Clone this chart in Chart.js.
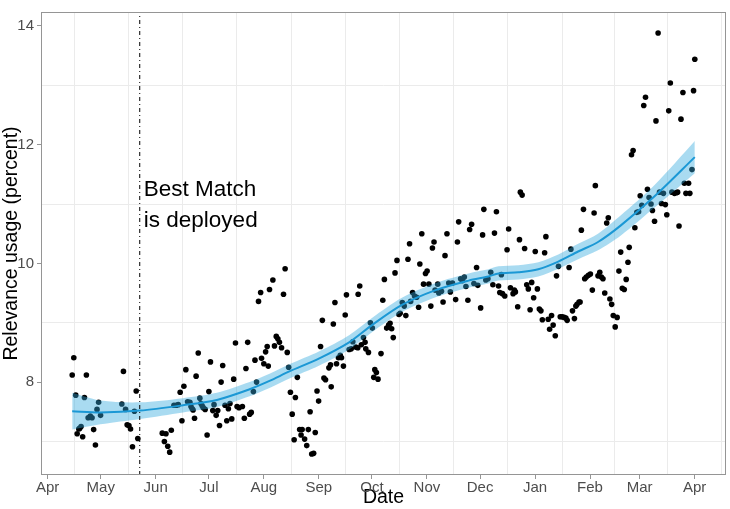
<!DOCTYPE html>
<html lang="en">
<head>
    <meta charset="UTF-8">
    <title>Relevance usage over time</title>
    <script src="https://cdn.jsdelivr.net/npm/chart.js@4.4.1/dist/chart.umd.min.js"></script>
    <style>
        html, body { margin: 0; padding: 0; background: #fff; }
        #wrap { width: 730px; height: 509px; position: relative; }
    </style>
</head>
<body>
    <div id="wrap"><canvas id="usageChart"></canvas></div>

    <script>
        // Days counted from 1 April; months on the x axis
        const monthDays = [0, 30, 61, 91, 122, 153, 183, 214, 244, 275, 306, 334, 365];
        const monthLabels = ['Apr', 'May', 'Jun', 'Jul', 'Aug', 'Sep', 'Oct', 'Nov', 'Dec', 'Jan', 'Feb', 'Mar', 'Apr'];
        const midMonthDays = [15, 45.5, 76, 106.5, 137.5, 168, 198.5, 229, 259.5, 290.5, 320, 349.5, 380];
        const yLabelValues = [8, 10, 12, 14];
        const yGridValues = [7, 9, 11, 13];

        // Daily relevance usage (percent), [day, value]
        const dailyUsage = [
            [13.9, 8.12], [14.8, 8.41], [15.9, 7.78], [16.7, 7.13], [17.6, 7.21], [18.1, 7.22], [18.9, 7.25],
            [19.8, 7.08], [20.8, 7.74], [21.9, 8.12], [22.9, 7.40], [24.1, 7.43], [25.1, 7.40], [26.0, 7.20],
            [27.0, 6.94], [27.9, 7.54], [28.8, 7.66], [29.9, 7.44], [41.9, 7.63], [42.8, 8.18], [44.0, 7.54],
            [44.9, 7.28], [45.9, 7.27], [46.8, 7.21], [47.9, 6.91], [49.0, 7.51], [50.0, 7.85], [50.9, 7.05],
            [64.7, 7.14], [65.9, 7.00], [66.8, 7.13], [67.8, 6.92], [68.9, 6.82], [69.8, 7.19], [71.3, 7.61],
            [72.6, 7.61], [73.7, 7.62], [74.8, 7.83], [75.8, 7.35], [76.9, 7.93], [78.0, 8.21], [79.0, 7.67],
            [80.3, 7.66], [80.9, 7.59], [81.6, 7.55], [82.1, 7.53], [82.9, 7.39], [83.8, 8.10], [85.0, 8.49],
            [85.9, 7.73], [86.5, 7.64], [87.2, 7.60], [87.8, 7.57], [88.9, 7.54], [90.0, 7.11], [91.0, 7.84],
            [91.9, 8.34], [93.2, 7.52], [93.9, 7.62], [95.1, 7.44], [96.0, 7.52], [97.0, 7.27], [97.9, 8.00],
            [98.8, 8.28], [100.1, 7.61], [101.1, 7.35], [102.0, 7.55], [102.9, 7.64], [103.9, 7.38], [105.0, 8.05],
            [106.0, 8.66], [106.9, 7.59], [108.0, 7.57], [109.9, 7.59], [111.0, 7.39], [111.9, 8.23], [112.9, 8.67],
            [114.0, 7.46], [114.9, 7.49], [116.1, 7.84], [117.0, 8.37], [117.9, 8.00], [119.0, 9.36], [120.2, 9.51],
            [120.7, 8.40], [122.0, 8.31], [123.0, 8.51], [123.9, 8.60], [124.5, 8.27], [125.2, 9.56], [127.1, 9.72],
            [128.0, 8.61], [129.0, 8.77], [129.9, 8.73], [130.8, 8.67], [132.0, 8.58], [133.1, 9.48], [134.0, 9.91],
            [135.2, 8.50], [136.0, 8.25], [137.0, 7.83], [138.0, 7.46], [139.1, 7.03], [139.8, 7.74], [140.9, 8.08],
            [142.2, 7.20], [143.0, 7.11], [143.6, 7.20], [145.0, 7.04], [146.2, 6.93], [147.1, 7.20], [148.1, 7.50],
            [149.0, 6.79], [150.1, 6.80], [151.0, 7.15], [152.0, 7.85], [152.9, 7.68], [154.0, 8.60], [155.0, 9.04],
            [155.9, 8.07], [156.8, 8.04], [158.7, 8.24], [159.6, 8.29], [160.0, 7.92], [161.2, 8.98], [162.1, 9.34],
            [163.0, 8.31], [164.1, 8.41], [165.1, 8.45], [165.8, 8.41], [166.9, 8.27], [167.9, 9.13], [168.6, 9.47],
            [170.1, 8.55], [171.3, 8.56], [172.2, 8.68], [173.9, 8.59], [175.0, 8.58], [175.2, 9.48], [176.1, 9.62],
            [177.0, 8.63], [178.2, 8.75], [179.1, 8.67], [179.5, 8.56], [181.0, 8.50], [182.1, 9.00], [183.2, 8.91],
            [184.0, 8.08], [184.6, 8.21], [185.5, 8.16], [186.4, 8.05], [188.1, 8.48], [189.1, 9.38], [190.0, 9.73],
            [191.3, 8.91], [192.4, 8.96], [193.2, 8.99], [194.1, 8.90], [195.0, 8.75], [196.0, 9.84], [197.1, 10.05],
            [198.2, 9.14], [198.9, 9.16], [200.1, 9.34], [201.2, 9.28], [202.1, 9.12], [203.3, 10.07], [204.2, 10.33],
            [204.8, 9.36], [205.9, 9.51], [207.0, 9.45], [208.2, 9.43], [209.3, 9.26], [210.0, 9.99], [211.1, 10.50],
            [212.1, 9.65], [213.2, 9.83], [214.1, 9.87], [215.1, 9.65], [216.2, 9.28], [217.1, 10.26], [218.0, 10.36],
            [218.6, 9.55], [220.1, 9.65], [220.7, 9.50], [222.2, 9.53], [223.1, 9.35], [224.2, 10.13], [225.3, 10.50],
            [226.3, 9.67], [227.2, 9.52], [228.4, 9.67], [230.2, 9.39], [231.2, 10.36], [231.9, 10.70], [233.0, 9.74],
            [234.0, 9.71], [235.1, 9.77], [236.0, 9.61], [237.1, 9.38], [238.1, 10.57], [239.2, 10.66], [240.5, 9.66],
            [242.0, 9.93], [242.7, 9.63], [244.3, 9.25], [245.4, 10.48], [246.1, 10.91], [247.2, 9.72], [248.4, 9.74],
            [250.0, 9.85], [251.2, 9.64], [252.1, 10.51], [253.2, 10.87], [254.4, 9.62], [255.1, 9.51], [256.0, 9.81],
            [256.6, 9.49], [257.9, 9.45], [259.2, 10.23], [260.1, 10.58], [261.1, 9.59], [262.6, 9.49], [263.3, 9.55],
            [263.9, 9.52], [265.2, 9.27], [266.2, 10.40], [266.7, 11.20], [267.7, 11.15], [269.1, 10.25], [270.3, 9.64],
            [271.2, 9.57], [272.2, 9.22], [273.1, 9.68], [274.2, 9.42], [275.1, 10.20], [276.3, 9.57], [277.4, 9.23],
            [278.3, 9.20], [279.1, 9.05], [280.4, 10.18], [281.1, 10.45], [282.4, 9.06], [283.2, 8.89], [284.3, 9.12],
            [285.2, 8.96], [286.4, 8.78], [287.1, 9.79], [288.2, 9.95], [289.2, 9.10], [290.3, 9.10], [291.4, 9.09],
            [292.4, 9.08], [293.1, 9.04], [294.2, 9.93], [295.2, 10.24], [296.1, 9.20], [297.2, 9.07], [298.0, 9.28],
            [298.7, 9.31], [299.8, 9.35], [300.4, 9.35], [301.1, 10.56], [302.3, 10.91], [303.0, 9.74], [303.9, 9.77],
            [305.1, 9.80], [306.2, 9.82], [307.3, 9.55], [308.3, 10.85], [309.0, 11.31], [310.5, 9.79], [311.5, 9.85],
            [312.4, 9.77], [313.3, 9.74], [314.3, 9.50], [315.4, 10.68], [316.3, 10.77], [317.2, 9.40], [318.2, 9.31],
            [319.1, 9.12], [320.2, 8.93], [321.3, 9.09], [322.3, 9.87], [323.3, 10.19], [324.2, 9.58], [325.3, 9.56],
            [326.4, 9.73], [327.4, 10.02], [328.1, 10.27], [329.4, 11.83], [330.3, 11.90], [331.3, 10.60], [332.4, 10.86],
            [333.4, 10.87], [334.3, 11.14], [335.2, 10.98], [336.3, 12.66], [337.3, 12.80], [338.4, 11.25], [339.3, 11.11],
            [340.4, 11.00], [341.2, 10.89], [342.4, 10.71], [343.2, 12.40], [344.4, 13.88], [345.2, 11.20], [346.3, 11.01],
            [347.4, 11.18], [348.5, 10.99], [349.3, 10.82], [350.4, 12.57], [351.3, 13.04], [352.2, 11.20], [353.6, 11.18],
            [354.7, 11.19], [355.4, 11.20], [356.2, 10.63], [357.3, 12.43], [358.4, 12.88], [359.2, 11.35], [360.1, 11.18],
            [361.6, 11.35], [362.3, 11.18], [363.5, 11.58], [364.4, 12.91], [365.1, 13.44]
        ];

        // Smoothed trend and its confidence band
        const smoothDays = [13.9, 29.8, 52.2, 76.4, 95.5, 114.0, 125.2, 136.4, 153.3, 170.1, 183.0, 199.9,
            218.9, 237.5, 248.7, 254.4, 265.6, 276.8, 288.1, 299.3, 310.5, 323.4, 342.4, 365.1];
        const smoothValues = [7.51, 7.49, 7.52, 7.61, 7.70, 7.88, 8.02, 8.18, 8.40, 8.67, 8.96, 9.30,
            9.55, 9.71, 9.78, 9.83, 9.85, 9.90, 10.03, 10.20, 10.36, 10.64, 11.13, 11.79];
        const bandLower = [7.20, 7.29, 7.38, 7.49, 7.58, 7.76, 7.90, 8.06, 8.28, 8.55, 8.84, 9.18,
            9.43, 9.59, 9.66, 9.71, 9.73, 9.78, 9.91, 10.07, 10.22, 10.47, 10.94, 11.52];
        const bandUpper = [7.82, 7.69, 7.66, 7.73, 7.82, 8.00, 8.14, 8.30, 8.52, 8.79, 9.08, 9.42,
            9.67, 9.83, 9.90, 9.95, 9.97, 10.02, 10.15, 10.33, 10.50, 10.81, 11.32, 12.06];

        // Deployment marker
        const deployDay = 52;
        const deployText = ['Best Match', 'is deployed'];
        const deployTextY = [11.14, 10.61];
        const deployTextDay = 54.3;

        const xMin = -3.7, xMax = 382.7;
        const yMin = 6.435, yMax = 14.235;

        const FONT = '"Liberation Sans", Arial, Helvetica, sans-serif';
        const borderGray = '#959595';
        const gridGray = '#ebebeb';

        function pairs(xs, ys) {
            return xs.map((x, i) => ({ x: x, y: ys[i] }));
        }

        // panel border on all four sides
        const panelBorder = {
            id: 'panelBorder',
            afterDraw(chart) {
                const { ctx, chartArea: a } = chart;
                ctx.save();
                ctx.strokeStyle = borderGray;
                ctx.lineWidth = 1;
                ctx.strokeRect(a.left + 0.5, a.top + 0.5, a.right - a.left - 1, a.bottom - a.top - 1);
                ctx.restore();
            }
        };

        // text next to the deployment line
        const deployLabel = {
            id: 'deployLabel',
            afterDatasetsDraw(chart) {
                const { ctx, scales } = chart;
                ctx.save();
                ctx.fillStyle = '#000';
                ctx.font = '22.5px ' + FONT;
                ctx.textAlign = 'left';
                ctx.textBaseline = 'alphabetic';
                deployText.forEach((t, i) => {
                    ctx.fillText(t, scales.x.getPixelForValue(deployTextDay), scales.y.getPixelForValue(deployTextY[i]));
                });
                ctx.restore();
            }
        };

        const ctx = document.getElementById('usageChart').getContext('2d');
        const usageChart = new Chart(ctx, {
            type: 'line',
            data: {
                datasets: [
                    {
                        label: 'Daily usage',
                        data: dailyUsage.map(p => ({ x: p[0], y: p[1] })),
                        showLine: false,
                        pointRadius: 2.8,
                        pointBorderWidth: 0,
                        pointBackgroundColor: '#000',
                        order: 4
                    },
                    {
                        label: 'Band lower',
                        data: pairs(smoothDays, bandLower),
                        borderWidth: 0,
                        pointRadius: 0,
                        tension: 0.3,
                        fill: false,
                        order: 3
                    },
                    {
                        label: 'Band upper',
                        data: pairs(smoothDays, bandUpper),
                        borderWidth: 0,
                        pointRadius: 0,
                        tension: 0.3,
                        fill: '-1',
                        backgroundColor: 'rgba(51, 170, 222, 0.42)',
                        order: 3
                    },
                    {
                        label: 'Trend',
                        data: pairs(smoothDays, smoothValues),
                        borderColor: '#1b98d5',
                        borderWidth: 2,
                        pointRadius: 0,
                        tension: 0.3,
                        fill: false,
                        order: 2
                    },
                    {
                        label: 'Deployment',
                        data: [{ x: deployDay, y: yMin }, { x: deployDay, y: yMax }],
                        borderColor: '#000',
                        borderWidth: 1,
                        borderDash: [4, 3, 1, 3],
                        pointRadius: 0,
                        fill: false,
                        order: 1
                    }
                ]
            },
            options: {
                responsive: true,
                maintainAspectRatio: false,
                animation: false,
                layout: { padding: { top: 1, right: 2, left: 0, bottom: 0 } },
                plugins: {
                    legend: { display: false },
                    tooltip: { enabled: false }
                },
                scales: {
                    x: {
                        type: 'linear',
                        min: xMin,
                        max: xMax,
                        afterBuildTicks: (scale) => {
                            scale.ticks = monthDays.concat(midMonthDays).sort((a, b) => a - b).map(v => ({ value: v }));
                        },
                        afterFit: (scale) => { scale.height = 34; },
                        border: { display: false },
                        grid: {
                            color: (c) => midMonthDays.includes(c.tick.value) ? gridGray : 'rgba(0,0,0,0)',
                            tickColor: (c) => monthDays.includes(c.tick.value) ? borderGray : 'rgba(0,0,0,0)',
                            tickLength: 4,
                            lineWidth: 1
                        },
                        ticks: {
                            autoSkip: false,
                            maxRotation: 0,
                            minRotation: 0,
                            padding: 0,
                            color: '#4d4d4d',
                            font: { family: FONT, size: 15 },
                            callback: (value) => {
                                const i = monthDays.indexOf(value);
                                return i >= 0 ? monthLabels[i] : '';
                            }
                        },
                        title: {
                            display: true,
                            text: 'Date',
                            color: '#000',
                            font: { family: FONT, size: 19.5, lineHeight: 1 },
                            padding: { top: 0, bottom: 1.5 }
                        }
                    },
                    y: {
                        type: 'linear',
                        min: yMin,
                        max: yMax,
                        afterBuildTicks: (scale) => {
                            scale.ticks = yGridValues.concat(yLabelValues).sort((a, b) => a - b).map(v => ({ value: v }));
                        },
                        afterFit: (scale) => { scale.width = 41; },
                        border: { display: false },
                        grid: {
                            color: (c) => yGridValues.includes(c.tick.value) ? gridGray : 'rgba(0,0,0,0)',
                            tickColor: (c) => yLabelValues.includes(c.tick.value) ? borderGray : 'rgba(0,0,0,0)',
                            tickLength: 4,
                            lineWidth: 1
                        },
                        ticks: {
                            autoSkip: false,
                            padding: 3,
                            color: '#4d4d4d',
                            font: { family: FONT, size: 15 },
                            callback: (value) => yLabelValues.includes(value) ? String(value) : ''
                        },
                        title: {
                            display: true,
                            text: 'Relevance usage (percent)',
                            color: '#000',
                            font: { family: FONT, size: 19.5, lineHeight: 1 },
                            padding: { top: 2, bottom: 0 }
                        }
                    }
                }
            },
            plugins: [panelBorder, deployLabel]
        });
    </script>
</body>
</html>
